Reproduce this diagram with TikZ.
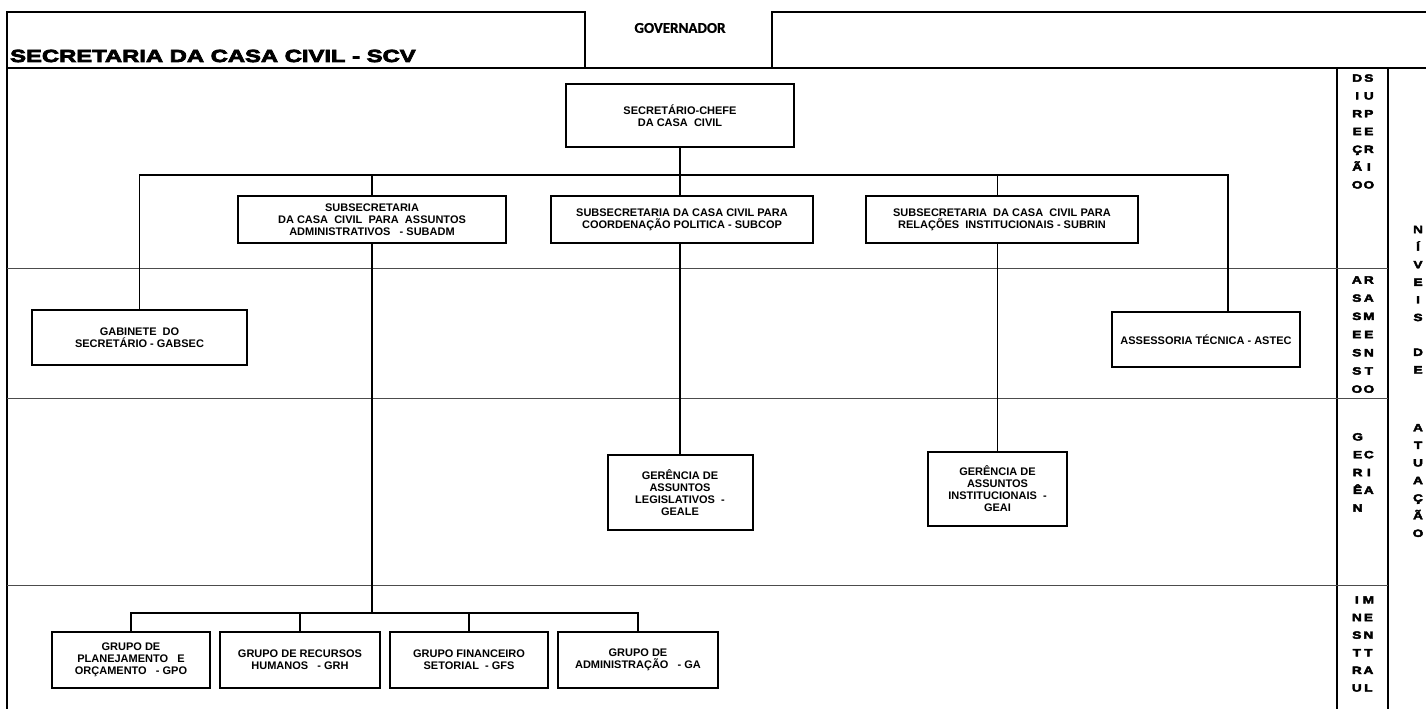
\documentclass[tikz,border=0pt]{standalone}
\usepackage{fontspec}
\setmainfont{Liberation Sans}
\newfontfamily\heavy{Liberation Sans}[BoldFeatures={FakeBold=4,FakeStretch=1.3}]
\newfontfamily\heavyT{Liberation Sans}[BoldFeatures={FakeBold=4.5,FakeStretch=1.36}]
\newfontfamily\govfont{Carlito}[BoldFeatures={FakeBold=1}]
\begin{document}
\begin{tikzpicture}[x=1pt,y=-1pt,
  box/.style={draw, line width=2pt, align=center, inner sep=0pt,
    font=\bfseries\fontsize{11}{12}\selectfont},
  conn/.style={line width=1.8pt},
  band/.style={line width=1pt, black!70},
  frame/.style={line width=1.6pt},
  col/.style={inner sep=0pt, font=\heavy\bfseries\fontsize{10.5}{17.8}\selectfont},
  colB/.style={inner sep=0pt, align=center, font=\heavy\bfseries\fontsize{10.5}{17.6}\selectfont}]
\useasboundingbox (0,0) rectangle (1426,709);
% frame
\draw[frame] (1426,12) -- (772,12) -- (772,68);
\draw[frame] (585,68) -- (585,12) -- (7,12) -- (7,709);
\draw[frame] (7,68) -- (1426,68);
\draw[frame] (1337,68) -- (1337,709);
\draw[frame] (1388,68) -- (1388,709);
\draw[band] (7,268) -- (1388,268);
\draw[band] (7,398) -- (1388,398);
\draw[band] (7,585) -- (1388,585);
% header texts
\node[anchor=base west, inner sep=0pt, font=\heavyT\bfseries\fontsize{17.5}{20}\selectfont] (title) at (10,62) {SECRETARIA DA CASA CIVIL - SCV};
\node[inner sep=0pt, font=\govfont\bfseries\fontsize{15}{16}\selectfont] (gov) at (680,28) {GOVERNADOR};
% boxes
\node[box, minimum width=228pt, minimum height=63pt] (sec) at (680,115.5) {SECRETÁRIO-CHEFE\\DA CASA\ \ CIVIL};
\node[box, minimum width=268pt, minimum height=47pt] (subadm) at (372,219.5) {SUBSECRETARIA\\DA CASA\ \ CIVIL\ \ PARA\ \ ASSUNTOS\\ADMINISTRATIVOS\ \ \ - SUBADM};
\node[box, minimum width=262pt, minimum height=47pt] (subcop) at (682,219.5) {SUBSECRETARIA DA CASA CIVIL PARA\\COORDENAÇÃO POLITICA - SUBCOP};
\node[box, minimum width=272pt, minimum height=47pt] (subrin) at (1002,219.5) {SUBSECRETARIA\ \ DA CASA\ \ CIVIL PARA\\RELAÇÕES\ \ INSTITUCIONAIS - SUBRIN};
\node[box, minimum width=215pt, minimum height=55pt] (gab) at (139.5,337.5) {GABINETE\ \ DO\\SECRETÁRIO - GABSEC};
\node[box, minimum width=188pt, minimum height=55pt] (astec) at (1206,339.5) {ASSESSORIA TÉCNICA - ASTEC};
\node[box, minimum width=145pt, minimum height=75pt] (geale) at (680,492.5) {GERÊNCIA DE\\ASSUNTOS\\LEGISLATIVOS\ \ -\\GEALE};
\node[box, minimum width=139pt, minimum height=74pt] (geai) at (997.5,489) {GERÊNCIA DE\\ASSUNTOS\\INSTITUCIONAIS\ \ -\\GEAI};
\node[box, minimum width=158pt, minimum height=56pt] (gpo) at (131,660) {GRUPO DE\\PLANEJAMENTO\ \ \ E\\ORÇAMENTO\ \ \ - GPO};
\node[box, minimum width=160pt, minimum height=56pt] (grh) at (300,660) {GRUPO DE RECURSOS\\HUMANOS\ \ \ - GRH};
\node[box, minimum width=158pt, minimum height=56pt] (gfs) at (469,660) {GRUPO FINANCEIRO\\SETORIAL\ \ - GFS};
\node[box, minimum width=160pt, minimum height=56pt] (ga) at (638,660) {GRUPO DE\\ADMINISTRAÇÃO\ \ \ - GA};
% connectors
\coordinate (bus) at (680,175);
\coordinate (bus2) at (372,613);
\coordinate (astecin) at ([xshift=22pt]astec.north);
\draw[conn] (sec.south) -- (sec.south |- subcop.north);
\draw[conn] (gab.north) -- (gab.north |- bus) -- (astecin |- bus) -- (astecin);
\draw[conn] (subadm.north) -- (subadm.north |- bus);
\draw[conn] (geai.north |- bus) -- (geai.north |- subrin.north);
\draw[conn] (geale.north) -- (geale.north |- subcop.south);
\draw[conn] (geai.north) -- (geai.north |- subrin.south);
\draw[conn] (subadm.south) -- (subadm.south |- bus2);
\draw[conn] (gpo.north) -- (gpo.north |- bus2) -- (ga.north |- bus2) -- (ga.north);
\draw[conn] (grh.north) -- (grh.north |- bus2);
\draw[conn] (gfs.north) -- (gfs.north |- bus2);
% level labels
\node[col] (lvl1) at (1363,131.5) {\begin{tabular}{@{}c@{\hspace{1pt}}c@{}}D&S\\I&U\\R&P\\E&E\\Ç&R\\Ã&I\\O&O\end{tabular}};
\node[col, font=\heavy\bfseries\fontsize{10.5}{18.2}\selectfont] (lvl2) at (1363,334.5) {\begin{tabular}{@{}c@{\hspace{1pt}}c@{}}A&R\\S&A\\S&M\\E&E\\S&N\\S&T\\O&O\end{tabular}};
\node[col] (lvl3) at (1363,472.5) {\begin{tabular}{@{}c@{\hspace{1pt}}c@{}}G&\\E&C\\R&I\\Ê&A\\N&\end{tabular}};
\node[col, font=\heavy\bfseries\fontsize{10.5}{17.6}\selectfont] (lvl4) at (1363,644) {\begin{tabular}{@{}c@{\hspace{1pt}}c@{}}I&M\\N&E\\S&N\\T&T\\R&A\\U&L\end{tabular}};
\node[colB] (niv) at (1418,273.5) {N\\Í\\V\\E\\I\\S};
\node[colB] (de) at (1418,361) {D\\E};
\node[colB] (atu) at (1418,480.5) {A\\T\\U\\A\\Ç\\Ã\\O};
\end{tikzpicture}
\end{document}
